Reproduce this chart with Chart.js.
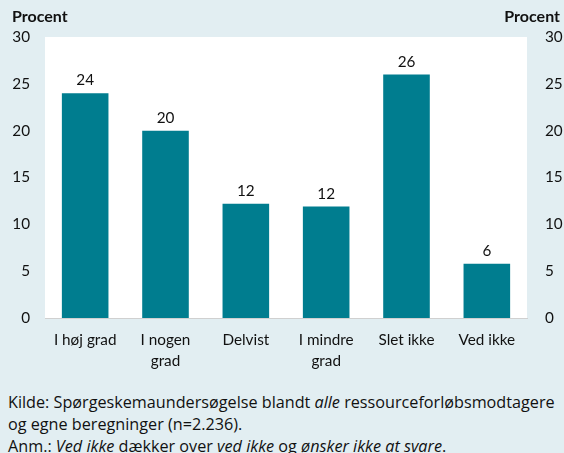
<!DOCTYPE html>
<html>
<head>
<meta charset="utf-8">
<script src="https://cdn.jsdelivr.net/npm/chart.js@4/dist/chart.umd.min.js"></script>
<style>
  html, body { margin: 0; padding: 0; background: #e2eef2; }
  body { width: 564px; height: 453px; position: relative; overflow: hidden; font-family: Lato, "Open Sans", sans-serif; }
  #wrap { position: absolute; left: 0; top: 0; width: 564px; height: 380px; }
  #note { position: absolute; left: 8px; top: 391px; width: 560px; font-family: "Open Sans", sans-serif; font-size: 16.2px; color: #111; white-space: nowrap; }
  #note div { height: 22px; line-height: 22px; }
</style>
</head>
<body>
<div id="wrap"><canvas id="chart"></canvas></div>
<div id="note">
  <div>Kilde: Spørgeskemaundersøgelse blandt <i>alle</i> ressourceforløbsmodtagere</div>
  <div>og egne beregninger (n=2.236).</div>
  <div>Anm.: <i>Ved ikke</i> dækker over <i>ved ikke</i> og <i>ønsker ikke at svare</i>.</div>
</div>
<script>
// Data
const categories = [["I høj grad"], ["I nogen", "grad"], ["Delvist"], ["I mindre", "grad"], ["Slet ikke"], ["Ved ikke"]];
const values     = [24, 20, 12.2, 11.9, 26, 5.8];
const labels     = ["24", "20", "12", "12", "26", "6"];
const yTicks     = [0, 5, 10, 15, 20, 25, 30];

const FONT = "Lato, 'Open Sans', sans-serif";
const SIZE = 15.3;
const teal = "#007d8f";

// draws the value labels and the two "Procent" headers
const extras = {
  id: "extras",
  afterDatasetsDraw(chart) {
    const ctx = chart.ctx;
    const meta = chart.getDatasetMeta(0);
    ctx.save();
    ctx.fillStyle = "#111";
    ctx.font = SIZE + "px " + FONT;
    ctx.textAlign = "center";
    ctx.textBaseline = "bottom";
    meta.data.forEach((bar, i) => {
      ctx.fillText(labels[i], bar.x, bar.y - 5);
    });
    ctx.font = "bold 16px " + FONT;
    ctx.textBaseline = "middle";
    ctx.textAlign = "left";
    ctx.fillText("Procent", 12, 17);
    ctx.textAlign = "right";
    ctx.fillText("Procent", 560, 17);
    ctx.restore();
  },
  beforeDraw(chart) {
    const { ctx, chartArea } = chart;
    ctx.save();
    ctx.fillStyle = "#ffffff";
    ctx.fillRect(chartArea.left, chartArea.top, chartArea.right - chartArea.left, chartArea.bottom - chartArea.top);
    ctx.restore();
  }
};

new Chart(document.getElementById("chart"), {
  type: "bar",
  data: {
    labels: categories,
    datasets: [{ data: values, backgroundColor: teal, barPercentage: 0.58, categoryPercentage: 1 }]
  },
  options: {
    responsive: true,
    maintainAspectRatio: false,
    animation: false,
    layout: { padding: { top: 37, left: 0, right: 0, bottom: 0 } },
    plugins: { legend: { display: false }, tooltip: { enabled: false } },
    scales: {
      x: {
        grid: { display: false, drawTicks: false },
        border: { color: "#d0d0d0", width: 1 },
        ticks: { color: "#111", font: { family: FONT, size: SIZE, lineHeight: 1.35 }, padding: 12, maxRotation: 0, autoSkip: false },
        afterFit(s) { s.height = 62; }
      },
      y: {
        position: "left",
        min: 0, max: 30,
        grid: { display: false, drawTicks: false },
        border: { display: false },
        afterBuildTicks(s) { s.ticks = yTicks.map(v => ({ value: v })); },
        ticks: { color: "#111", font: { family: FONT, size: SIZE }, padding: 15 },
        afterFit(s) { s.width = 45; }
      },
      y2: {
        position: "right",
        display: true,
        min: 0, max: 30,
        grid: { display: false, drawTicks: false },
        border: { display: false },
        afterBuildTicks(s) { s.ticks = yTicks.map(v => ({ value: v })); },
        ticks: { color: "#111", font: { family: FONT, size: SIZE }, padding: 18 },
        afterFit(s) { s.width = 37; }
      }
    }
  },
  plugins: [extras]
});
</script>
</body>
</html>
